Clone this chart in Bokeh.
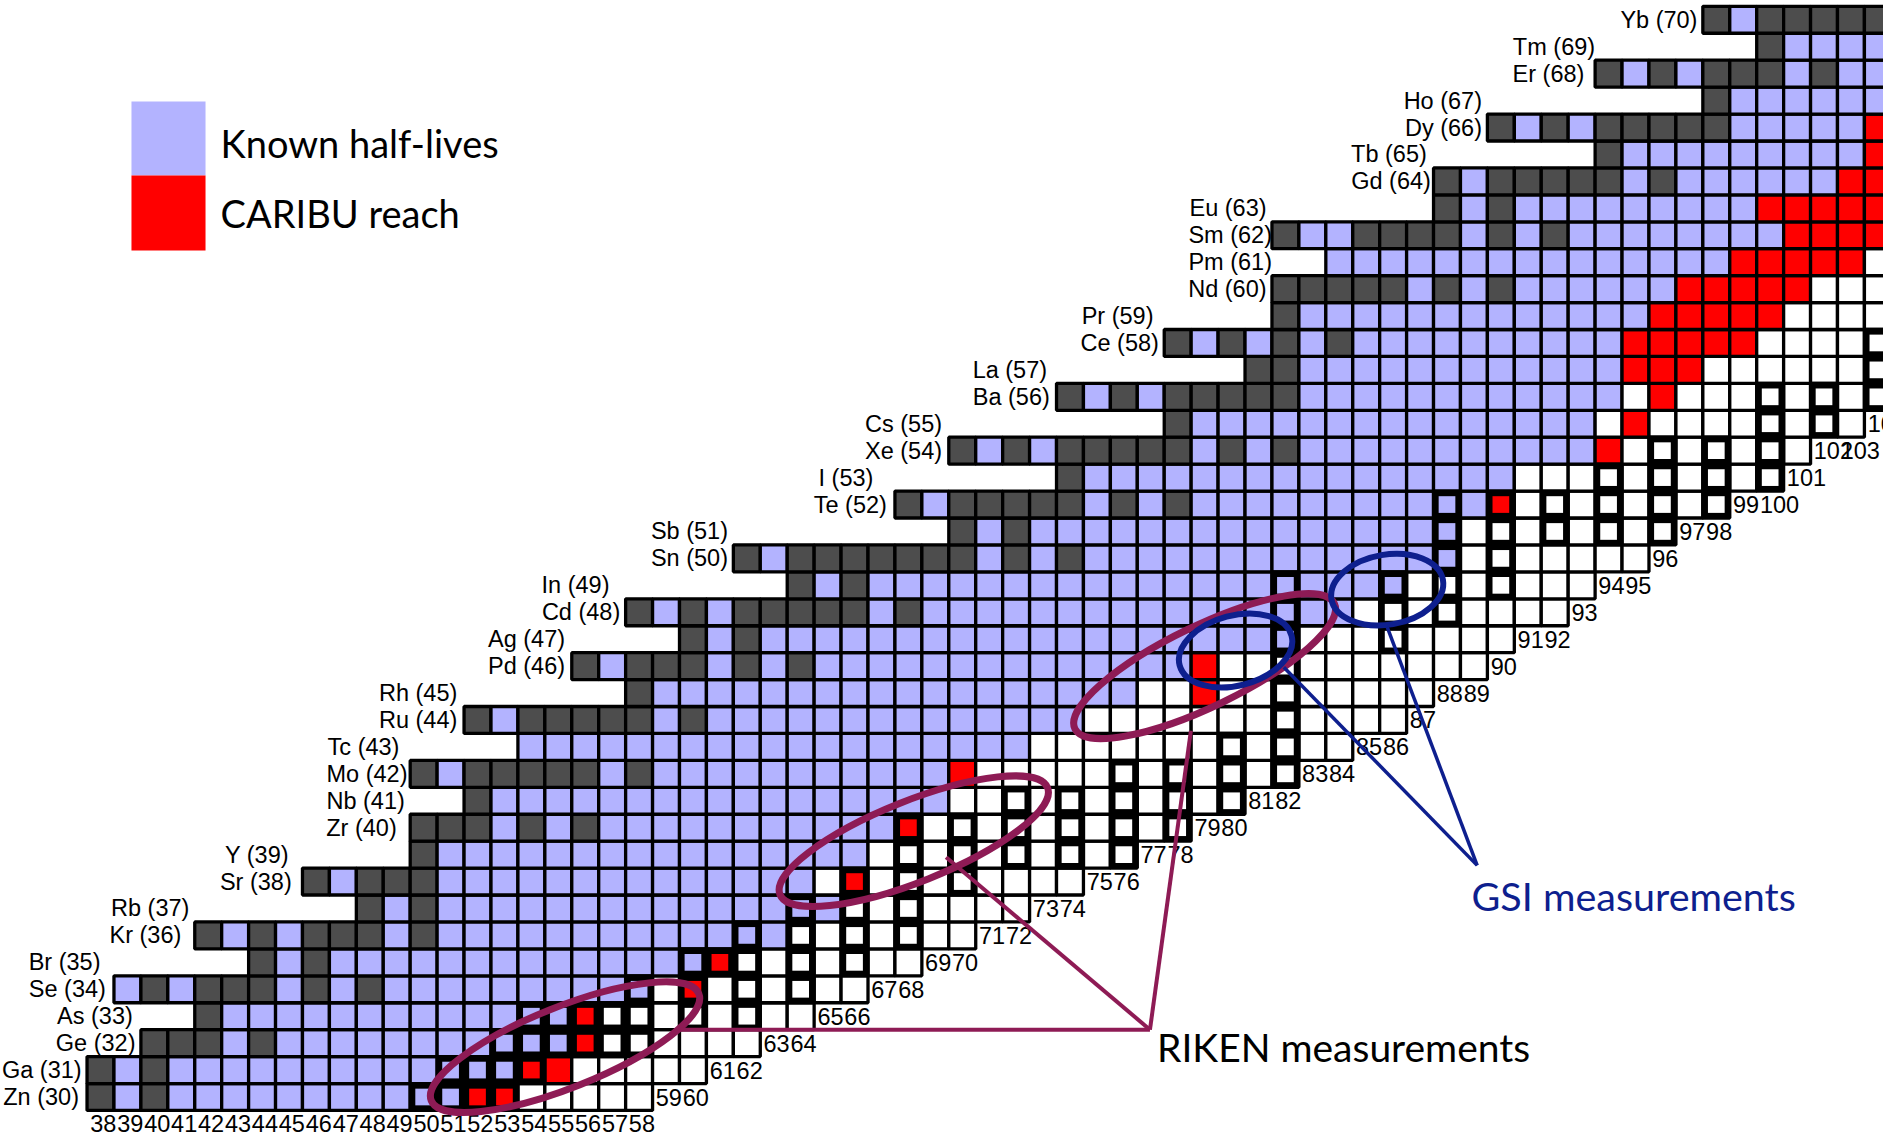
from bokeh.plotting import figure
from bokeh.models import Range1d, ColumnDataSource
from bokeh.embed import file_html
from bokeh.resources import INLINE
from bokeh.core.properties import value

# ---- chart data -----------------------------------------------------------
Z_VALUES = list(range(30, 71))
SYMBOLS = ["Zn", "Ga", "Ge", "As", "Se", "Br", "Kr", "Rb", "Sr", "Y",
           "Zr", "Nb", "Mo", "Tc", "Ru", "Rh", "Pd", "Ag", "Cd", "In",
           "Sn", "Sb", "Te", "I", "Xe", "Cs", "Ba", "La", "Ce", "Pr",
           "Nd", "Pm", "Sm", "Eu", "Gd", "Tb", "Dy", "Ho", "Er", "Tm", "Yb"]

# first and last neutron number of every isotope row
ROW_START = [38, 38, 40, 42, 39, 44, 42, 48, 46, 50,
             50, 52, 50, 54, 52, 58, 56, 60, 58, 64,
             62, 70, 68, 74, 70, 78, 74, 81, 78, 82,
             82, 84, 82, 88, 88, 94, 90, 98, 94, 100, 98]
ROW_END = [58, 60, 62, 64, 66, 68, 70, 72, 74, 76,
           78, 80, 82, 84, 86, 87, 89, 90, 92, 93,
           95, 96, 98, 100, 101, 103, 104, 104, 104, 104,
           104, 104, 104, 104, 104, 104, 104, 104, 104, 104, 104]

# S stable, K known half-life, C CARIBU reach, W unknown;
# lower case letters mark framed (measured) nuclides
ROW_CELLS = [
    "SKSKKKKKKKKKkkccWWWWW",                 # Zn 30
    "SKSKKKKKKKKKKkkkcCWWWWW",               # Ga 31
    "SSSKSKKKKKKKKkkkcwwWWWW",               # Ge 32
    "SKKKKKKKKKKKkkcwwWwWwWW",               # As 33
    "KSKSSSKSKSKKKKKKKKKkWcWwWwWW",          # Se 34
    "SKSKKKKKKKKKKKKKkcwWwWwWW",             # Br 35
    "SKSKSSSKSKKKKKKKKKKKkKwWwWwWW",         # Kr 36
    "SKSKKKKKKKKKKKKKkKwWwWWWW",             # Rb 37
    "SKSSSKKKKKKKKKKKKKKWcWwWwWWWW",         # Sr 38
    "SKKKKKKKKKKKKKKKKWwWwWwWwWw",           # Y 39
    "SSSKSKSKKKKKKKKKKKcWwWwWwWwWw",         # Zr 40
    "SKKKKKKKKKKKKKKKKKWWwWwWwWwWw",         # Nb 41
    "SKSSSSSKSKKKKKKKKKKKCWWWWWwWwWwWw",     # Mo 42
    "KKKKKKKKKKKKKKKKKKKWWWWWWWwWwWW",       # Tc 43
    "SKSSSSSKSKKKKKKKKKKKKKKWWWWWWWwWWWW",   # Ru 44
    "SKKKKKKKKKKKKKKKKKKWWCWWwWWWWW",        # Rh 45
    "SKSSSKSKSKKKKKKKKKKKKKKCWWwWWWWWWW",    # Pd 46
    "SKSKKKKKKKKKKKKKKKKKKKkWWWwWWWW",       # Ag 47
    "SKSKSSSSSKSKKKKKKKKKKKKKkKKWwWwWWWW",   # Cd 48
    "SKSKKKKKKKKKKKKKKKkKKKkWwWwWWW",        # In 49
    "SKSSSSSSSKSKSKKKKKKKKKKKKKkWwWWWWW",    # Sn 50
    "SKSKKKKKKKKKKKKKKKkWwWwWwWw",           # Sb 51
    "SKSSSSSKSKSKKKKKKKKKkKcWwWwWwWw",       # Te 52
    "SKKKKKKKKKKKKKKKKWWWwWwWwWw",           # I 53
    "SKSKSSSSSKSKSKKKKKKKKKKKCWwWwWwW",      # Xe 54
    "SKKKKKKKKKKKKKKKWCWWWWwWwW",            # Cs 55
    "SKSKSSSSSKKKKKKKKKKKKWCWWWwWwWw",       # Ba 56
    "SSKKKKKKKKKKKKCCCWWWWWWw",              # La 57
    "SKSKSKSKKKKKKKKKKCCCCCWWWWw",           # Ce 58
    "SKKKKKKKKKKKKKCCCCCWWWW",               # Pr 59
    "SSSSSKSKSKKKKKKCCCCCWWW",               # Nd 60
    "KKKKKKKKKKKKKKKCCCCCW",                 # Pm 61
    "SKKSSSSKSKSKKKKKKKKCCCC",               # Sm 62
    "SKSKKKKKKKKKCCCCC",                     # Eu 63
    "SKSSSSSKSKKKKKKCC",                     # Gd 64
    "SKKKKKKKKKC",                           # Tb 65
    "SKSKSSSSSKKKKKC",                       # Dy 66
    "SKKKKKK",                               # Ho 67
    "SKSKSSSKSKK",                           # Er 68
    "SKKKK",                                 # Tm 69
    "SKSSSSS",                               # Yb 70
]

# right end of each element label, in neutron-number units
LABEL_EDGE = [37.2, 37.3, 39.3, 39.2, 38.2, 38.0, 41.0, 41.3, 45.1, 45.0,
              49.0, 49.3, 49.4, 49.1, 51.25, 51.25, 55.25, 55.25, 57.3, 56.9,
              61.3, 61.3, 67.2, 66.7, 69.25, 69.25, 73.25, 73.15, 77.3, 77.1,
              81.3, 81.5, 81.5, 81.3, 87.4, 87.25, 89.3, 89.3, 93.1, 93.5, 97.3]

LEGEND_TEXT = ["Known half-lives", "CARIBU reach"]

for z, n0, n1, codes in zip(Z_VALUES, ROW_START, ROW_END, ROW_CELLS):
    if len(codes) != n1 - n0 + 1:
        raise ValueError(f"row Z={z}: {len(codes)} cells for N={n0}..{n1}")

# ---- styling --------------------------------------------------------------
FILL = {"S": "#4d4d4d", "K": "#b3b3ff", "C": "#ff0000", "W": "#ffffff"}
MAROON = "#8e1b55"
NAVY = "#0e1f8e"
LABEL_FONT = value("Liberation Sans")
NOTE_FONT = value("Lato")

CELL_PX = 26.93
W, H = 1883, 1138
x_lo = 38 - 100 / CELL_PX
y_hi = 30 + 1096.5 / CELL_PX

p = figure(width=W, height=H,
           x_range=Range1d(x_lo, x_lo + W / CELL_PX),
           y_range=Range1d(y_hi - H / CELL_PX, y_hi),
           x_axis_type=None, y_axis_type=None,
           toolbar_location=None, output_backend="svg", min_border=0)
p.outline_line_color = None
p.background_fill_color = "white"
p.border_fill_color = "white"

# ---- nuclide cells --------------------------------------------------------
plain = dict(x=[], y=[], c=[])
framed = dict(x=[], y=[], c=[])
lowest = {}
for z, n0, codes in zip(Z_VALUES, ROW_START, ROW_CELLS):
    for i, ch in enumerate(codes):
        n = n0 + i
        dest = plain if ch.isupper() else framed
        dest["x"].append(n)
        dest["y"].append(z)
        dest["c"].append(FILL[ch.upper()])
        lowest[n] = min(lowest.get(n, 999), z)

p.rect(x="x", y="y", width=1, height=1, fill_color="c", line_color="black",
       line_width=3.3, source=ColumnDataSource(plain))
p.rect(x=framed["x"], y=framed["y"], width=1, height=1, fill_color="black",
       line_color="black", line_width=3.3)
p.rect(x=framed["x"], y=framed["y"], width=0.62, height=0.62,
       fill_color=framed["c"], line_color=None)

# element labels
p.text(x=LABEL_EDGE, y=Z_VALUES,
       text=[f"{s} ({z})" for s, z in zip(SYMBOLS, Z_VALUES)],
       text_align="right", text_baseline="middle", text_font=LABEL_FONT,
       text_font_size="23.5px", text_color="black")

# neutron numbers under the lowest cell of each column
ns = sorted(lowest)
p.text(x=[n - 0.5 + 0.12 for n in ns], y=[lowest[n] - 1 for n in ns],
       text=[str(n) for n in ns], text_align="left", text_baseline="middle",
       text_font=LABEL_FONT, text_font_size="23.5px", text_color="black")

# ---- legend ---------------------------------------------------------------
p.quad(left=[39.15, 39.15], right=[41.9, 41.9], top=[66.97, 64.22],
       bottom=[64.22, 61.43], fill_color=[FILL["K"], FILL["C"]], line_color=None)
p.text(x=[42.46, 42.46], y=[65.41, 62.81], text=LEGEND_TEXT,
       text_align="left", text_baseline="middle", text_font=NOTE_FONT,
       text_font_size="38px", text_color="black")

# ---- measurement call-outs ------------------------------------------------
p.ellipse(x=[55.25, 68.2, 79.0], y=[31.85, 39.5, 46.0], width=10.7, height=3.0,
          angle=[0.38, 0.38, 0.45], fill_color=None, line_color=MAROON, line_width=7)
p.segment(x0=[59.53, 69.4, 78.49], y0=[32.5, 38.9, 43.6],
          x1=[76.97, 76.97, 76.97], y1=[32.5, 32.5, 32.5],
          line_color=MAROON, line_width=4)
p.text(x=[77.23], y=[31.84], text=["RIKEN measurements"], text_align="left",
       text_baseline="middle", text_font=NOTE_FONT, text_font_size="39px",
       text_color="black")

p.ellipse(x=[80.15, 85.78], y=[46.58, 48.84], width=[4.3, 4.2], height=[2.6, 2.6],
          angle=[0.26, 0.17], fill_color=None, line_color=NAVY, line_width=6)
p.segment(x0=[81.94, 85.78], y0=[45.96, 47.45], x1=[89.12, 89.12], y1=[38.6, 38.6],
          line_color=NAVY, line_width=3.5)
p.text(x=[88.91], y=[37.49], text=["GSI measurements"], text_align="left",
       text_baseline="middle", text_font=NOTE_FONT, text_font_size="39.5px",
       text_color=NAVY)

html = file_html(p, INLINE)
html = html.replace("<body>", '<body style="margin:0;padding:0;overflow:hidden">', 1)
open("out.html", "w").write(html)
